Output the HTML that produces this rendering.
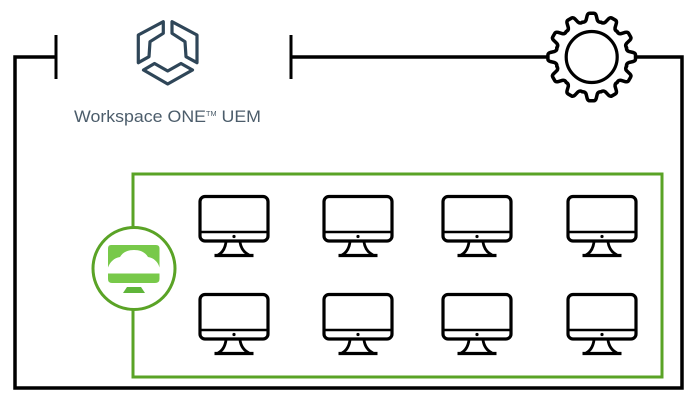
<!DOCTYPE html>
<html>
<head>
<meta charset="utf-8">
<style>
html,body{margin:0;padding:0;background:#fff;width:700px;height:400px;overflow:hidden}
svg{display:block}
</style>
</head>
<body>
<svg width="700" height="400" viewBox="0 0 700 400" xmlns="http://www.w3.org/2000/svg">
<defs>
  <g id="mon">
    <rect x="200" y="196.500" width="68" height="44.500" rx="5" fill="#fff" stroke="#000" stroke-width="3.200"/>
    <path d="M200.500 232H268" stroke="#000" stroke-width="2.500" fill="none"/>
    <circle cx="234" cy="236.500" r="1.600" fill="#000"/>
    <path d="M226 242C225 249 222 253 218 255M240 242C241 249 245 253 249 255" stroke="#000" stroke-width="2.800" fill="none"/>
    <path d="M214.500 255.500H253.500" stroke="#000" stroke-width="3.200" fill="none"/>
  </g>
  <path id="tooth" d="M-9.320 -34.770Q-6.500 -34.600 -5.600 -37L-4.500 -41.500Q-3.800 -43.800 -2 -43.800L2 -43.800Q3.800 -43.800 4.500 -41.500L5.600 -37Q6.500 -34.600 9.320 -34.770" fill="none" stroke="#000" stroke-width="3.500" stroke-linejoin="round" stroke-linecap="round"/>
</defs>

<!-- black connector loop -->
<path d="M56 57H15V388H682V57H636" fill="none" stroke="#000" stroke-width="3.500"/>
<path d="M56 35V79M291 35V79" fill="none" stroke="#000" stroke-width="3"/>
<path d="M291 57H548" fill="none" stroke="#000" stroke-width="3.500"/>

<!-- logo -->
<g fill="none" stroke="#2f4658" stroke-width="3.200" stroke-linejoin="round">
  <path d="M163.300 21.700V33.300L150 41.700L149 56.700L138.300 62.700V35Z"/>
  <path d="M172 21.700V33.300L185 41.700L186 56.700L197 62.700V35Z"/>
  <path d="M143.500 70L154.500 63.500L167.700 71L181 63.500L192.500 70L167.700 84Z"/>
</g>
<text x="74" y="122" font-family="'Liberation Sans',sans-serif" font-size="17" fill="#4c5d6b" textLength="187" lengthAdjust="spacingAndGlyphs">Workspace ONE<tspan font-size="7" dy="-6">TM</tspan><tspan dy="6"> UEM</tspan></text>

<!-- gear -->
<g transform="translate(591.700 57)">
  <use href="#tooth"/>
  <use href="#tooth" transform="rotate(30)"/>
  <use href="#tooth" transform="rotate(60)"/>
  <use href="#tooth" transform="rotate(90)"/>
  <use href="#tooth" transform="rotate(120)"/>
  <use href="#tooth" transform="rotate(150)"/>
  <use href="#tooth" transform="rotate(180)"/>
  <use href="#tooth" transform="rotate(210)"/>
  <use href="#tooth" transform="rotate(240)"/>
  <use href="#tooth" transform="rotate(270)"/>
  <use href="#tooth" transform="rotate(300)"/>
  <use href="#tooth" transform="rotate(330)"/>
  <circle r="25.500" fill="#fff" stroke="#000" stroke-width="3.200"/>
</g>

<!-- green box -->
<rect x="133" y="174" width="529" height="203" fill="none" stroke="#5aa326" stroke-width="3"/>

<!-- monitors -->
<use href="#mon"/>
<use href="#mon" x="124"/>
<use href="#mon" x="243"/>
<use href="#mon" x="368"/>
<use href="#mon" y="98"/>
<use href="#mon" x="124" y="98"/>
<use href="#mon" x="243" y="98"/>
<use href="#mon" x="368" y="98"/>

<!-- green badge -->
<circle cx="134" cy="268.500" r="41" fill="#fff" stroke="#5aa326" stroke-width="3"/>
<path d="M111 245H156Q159.500 245 159.500 248.500V267.500H108V248.500Q108 245 111 245Z" fill="#78c94a"/>
<path d="M108 273.500H159.500V279Q159.500 283 155 283H112Q108 283 108 279Z" fill="#78c94a"/>
<path d="M108 267.500H159.500C158 262 154 258 148 257C145 252 140 250 134 250C128 250 123 252 120 257C114 258 110 262 108 267.500Z" fill="#fff"/>
<path d="M123 293L127 287H141L145 293Z" fill="#5fb53a"/>
</svg>
</body>
</html>
